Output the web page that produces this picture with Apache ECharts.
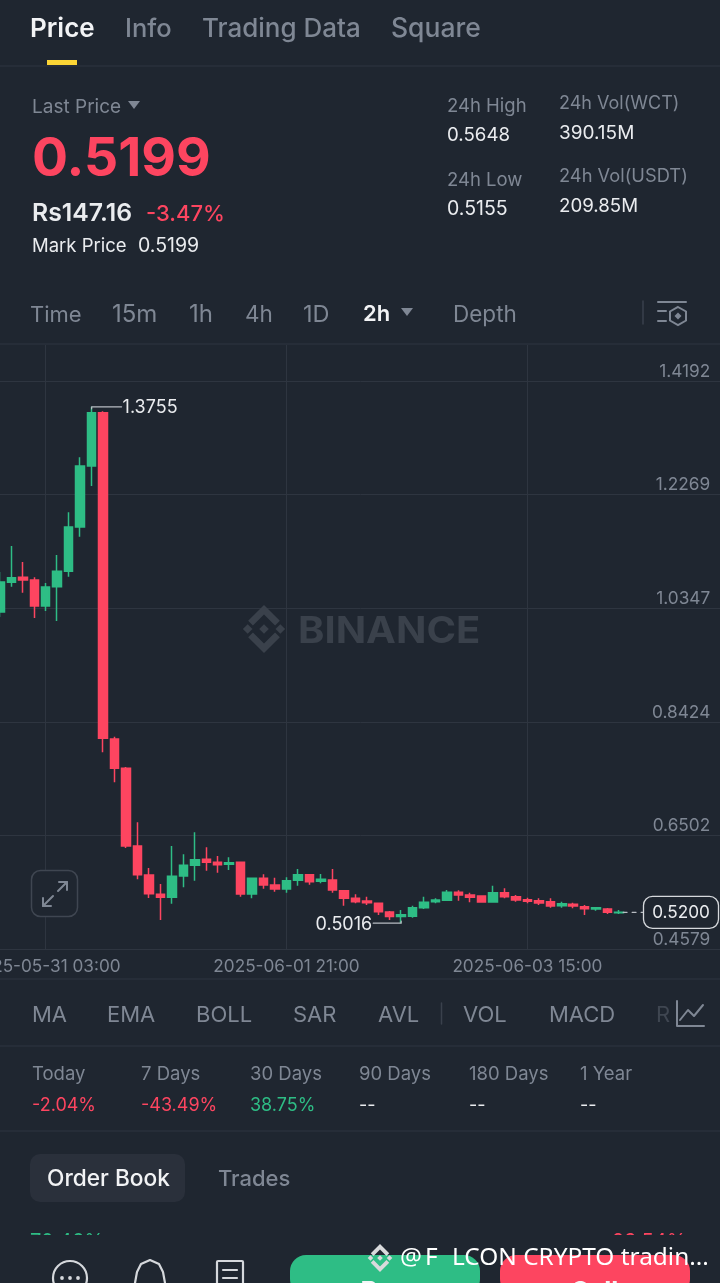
<!DOCTYPE html>
<html><head><meta charset="utf-8">
<style>html,body{margin:0;padding:0;background:#1f2630}#c{width:720px;height:1283px}</style>
<script src="https://cdn.jsdelivr.net/npm/echarts@6/dist/echarts.min.js"></script>
</head><body><div id="c"></div>
<script>
const categories = [
'2025-05-30 19:00','2025-05-30 21:00','2025-05-30 23:00',
'2025-05-31 01:00','2025-05-31 03:00','2025-05-31 05:00','2025-05-31 07:00','2025-05-31 09:00','2025-05-31 11:00','2025-05-31 13:00','2025-05-31 15:00','2025-05-31 17:00','2025-05-31 19:00','2025-05-31 21:00','2025-05-31 23:00',
'2025-06-01 01:00','2025-06-01 03:00','2025-06-01 05:00','2025-06-01 07:00','2025-06-01 09:00','2025-06-01 11:00','2025-06-01 13:00','2025-06-01 15:00','2025-06-01 17:00','2025-06-01 19:00','2025-06-01 21:00','2025-06-01 23:00',
'2025-06-02 01:00','2025-06-02 03:00','2025-06-02 05:00','2025-06-02 07:00','2025-06-02 09:00','2025-06-02 11:00','2025-06-02 13:00','2025-06-02 15:00','2025-06-02 17:00','2025-06-02 19:00','2025-06-02 21:00','2025-06-02 23:00',
'2025-06-03 01:00','2025-06-03 03:00','2025-06-03 05:00','2025-06-03 07:00','2025-06-03 09:00','2025-06-03 11:00','2025-06-03 13:00','2025-06-03 15:00','2025-06-03 17:00','2025-06-03 19:00','2025-06-03 21:00','2025-06-03 23:00',
'2025-06-04 01:00','2025-06-04 03:00','2025-06-04 05:00','2025-06-04 07:00','2025-06-04 09:00','2025-06-04 11:00','2025-06-04 13:00','2025-06-04 15:00','2025-06-04 17:00','2025-06-04 19:00','2025-06-04 21:00','2025-06-04 23:00',
'2025-06-05 01:00'];
const xTickLabels = ['2025-05-31 03:00','2025-06-01 21:00','2025-06-03 15:00'];
const yTicks = [0.4579,0.6502,0.8424,1.0347,1.2269,1.4192];
const opens  = [1.0283,1.0785,1.0870,1.0824,1.0384,1.0711,1.0972,1.1721,1.2754,1.3656,.8134,.7638,.6323,.5832,.5505,.5455,.5815,.5996,.6098,.6047,.6013,.6047,.5510,.5776,.5663,.5595,.5742,.5837,.5726,.5748,.5566,.5438,.5392,.5353,.5206,.5127,.5133,.5279,.5380,.5404,.5539,.5494,.5477,.5375,.5533,.5465,.5414,.5397,.5380,.5312,.5336,.5296,.5257,.5257,.5194];
const closes = [1.0790,1.0863,1.0824,1.0384,1.0706,1.0972,1.1721,1.2754,1.3656,.8145,.7638,.6323,.5837,.5516,.5455,.5810,.5996,.6091,.6047,.6006,.6040,.5510,.5776,.5663,.5595,.5736,.5837,.5719,.5759,.5578,.5438,.5380,.5363,.5211,.5127,.5160,.5279,.5370,.5409,.5539,.5494,.5455,.5375,.5533,.5465,.5409,.5387,.5358,.5307,.5346,.5307,.5262,.5279,.5201,.5200];
const lows   = [1.0198,1.0711,1.0609,1.0181,1.0300,1.0131,1.0880,1.1557,1.2415,.7908,.7401,.6289,.5759,.5443,.5070,.5346,.5624,.5736,.5905,.5871,.5917,.5465,.5438,.5600,.5549,.5533,.5651,.5668,.5692,.5533,.5312,.5353,.5324,.5155,.5070,.5016,.5109,.5257,.5353,.5401,.5397,.5370,.5370,.5370,.5438,.5380,.5353,.5324,.5279,.5279,.5269,.5155,.5228,.5172,.5172];
const highs  = [1.0960,1.1400,1.1129,1.0870,1.0774,1.1247,1.1970,1.2901,1.3755,1.3679,.8173,.7660,.6724,.5950,.5680,.6323,.6182,.6555,.6301,.6153,.6132,.6052,.5781,.5844,.5786,.5793,.5934,.5840,.5849,.5934,.5570,.5505,.5465,.5358,.5223,.5240,.5312,.5465,.5438,.5578,.5573,.5533,.5485,.5651,.5607,.5494,.5448,.5438,.5438,.5380,.5363,.5324,.5291,.5274,.5240];
const highLabel = {index: 8, value: 1.3755};
const lowLabel  = {index: 35, value: 0.5016};
const lastPrice = {index: 54, value: 0.5200};

const FONT = 'Inter, "Noto Sans", sans-serif';
const BG='#1f2630', LINE='#2e3540', GREY='#7f8794', WHITE='#eaecef', RED='#fd4560', GREEN='#2ebd85';
const chart = echarts.init(document.getElementById('c'));
const candleData = opens.map((o,i)=>[o,closes[i],lows[i],highs[i]]);

chart.setOption({
  animation:false, backgroundColor:BG,
  grid:{left:-0.15, right:-2.3, top:345, bottom:334, containLabel:false, outerBoundsMode:'none'},
  xAxis:{type:'category', data:categories, boundaryGap:false,
    axisLine:{show:true,lineStyle:{color:LINE,width:1}}, axisTick:{show:false},
    axisLabel:{color:GREY,fontSize:17.2,fontFamily:FONT,margin:9,hideOverlap:false,
      interval:(i,v)=>xTickLabels.includes(v), formatter:v=>v, showMinLabel:true, showMaxLabel:true},
    splitLine:{show:true,lineStyle:{color:LINE,width:1},interval:(i,v)=>xTickLabels.includes(v)}},
  yAxis:{type:'value', position:'right', min:0.4579, max:1.4801, scale:true,
    axisLine:{show:false}, axisTick:{show:false,customValues:yTicks},
    axisLabel:{inside:true,customValues:yTicks,color:GREY,fontSize:17.3,fontFamily:FONT,margin:12,
      align:'right',verticalAlign:'bottom',lineHeight:19,formatter:v=>v.toFixed(4),showMinLabel:true,showMaxLabel:true},
    splitLine:{show:true,lineStyle:{color:LINE,width:1}}},
  series:[{type:'candlestick',data:candleData,barWidth:9,clip:true,
    itemStyle:{color:GREEN,color0:RED,borderColor:GREEN,borderColor0:RED,borderWidth:1.5}}]
});

// ---- everything around the plot -----
const els=[];
function t(x,y,text,size,fill,weight,align,z){els.push({type:'text',x,y:y+1,z:z||10,silent:true,style:{text,fill,fontSize:size,fontWeight:weight||400,fontFamily:FONT,textAlign:align||'left',textVerticalAlign:'middle'}});}
function hl(y,x1,x2,c,w){els.push({type:'line',z:9,silent:true,shape:{x1:x1||0,y1:y,x2:x2||720,y2:y},style:{stroke:c||LINE,lineWidth:w||1}});}
function seg(x1,y1,x2,y2,c,w,dash,z){els.push({type:'line',z:z||10,silent:true,shape:{x1,y1,x2,y2},style:{stroke:c,lineWidth:w||2,lineDash:dash||null,lineCap:'round'}});}
function rect(x,y,w,h,r,fill,stroke,z,lw){els.push({type:'rect',z:z||8,silent:true,shape:{x,y,width:w,height:h,r},style:{fill:fill||'transparent',stroke:stroke||null,lineWidth:lw||1}});}
function poly(pts,fill,z){els.push({type:'polygon',z:z||10,silent:true,shape:{points:pts},style:{fill}});}
function pline(pts,c,w,z){els.push({type:'polyline',z:z||10,silent:true,shape:{points:pts},style:{stroke:c,lineWidth:w||2,fill:'transparent',lineJoin:'round',lineCap:'round'}});}
function tri(cx,cy,c){poly([[cx-6,cy-4],[cx+6,cy-4],[cx,cy+4]],c);}
function logo(cx,cy,s,c,z){ // s = half size
  const d=(x,y,r)=>poly([[x,y-r],[x+r,y],[x,y+r],[x-r,y]],c,z);
  d(cx,cy,s*.2); d(cx-s*.68,cy,s*.2); d(cx+s*.68,cy,s*.2);
  const a=s*.32,b=s*.66;
  poly([[cx,cy-s],[cx+b,cy-s+b],[cx+b-a*.62,cy-s+b+a*.62],[cx,cy-s+a*1.25],[cx-b+a*.62,cy-s+b+a*.62],[cx-b,cy-s+b]],c,z);
  poly([[cx,cy+s],[cx+b,cy+s-b],[cx+b-a*.62,cy+s-b-a*.62],[cx,cy+s-a*1.25],[cx-b+a*.62,cy+s-b-a*.62],[cx-b,cy+s-b]],c,z);
}

// tabs
t(30,28,'Price',26,'#f2f3f5',600); t(125,28,'Info',25.5,GREY,500); t(202,28,'Trading Data',26,GREY,500); t(391,28,'Square',26.5,GREY,500);
rect(47,60,30,5,0,'#fcd535',null,10); hl(66);
// header
t(32,106,'Last Price',19,GREY); tri(134,105,GREY);
t(32,159,'0.5199',53.5,RED,700);
t(32,213,'Rs147.16',24.8,WHITE,600); t(146,213,'-3.47%',22,RED,500);
t(32,245,'Mark Price',18.5,WHITE); t(138,245,'0.5199',19.5,WHITE);
t(447,105,'24h High',18.5,GREY); t(447,134,'0.5648',18.7,WHITE);
t(447,179,'24h Low',18.5,GREY); t(447,208,'0.5155',19.5,WHITE);
t(559,103,'24h Vol(WCT)',18,GREY); t(559,132,'390.15M',19,WHITE);
t(559,176,'24h Vol(USDT)',18.3,GREY); t(559,205,'209.85M',18.7,WHITE);
// timeframes
[['Time',30,22],['15m',112,24],['1h',189,24],['4h',245,22.5],['1D',303,23.5]].forEach(a=>t(a[1],314,a[0],a[2],GREY));
t(363,313,'2h',22,'#f2f3f5',600); tri(407,312,GREY); t(453,314,'Depth',22.5,GREY);
seg(643,301,643,324,'#3a414c',1.5);
seg(658,302,686,302,GREY,2); seg(658,311,666,311,GREY,2); seg(658,321,666,321,GREY,2);
els.push({type:'polygon',z:10,silent:true,shape:{points:[[678,307],[686,311.5],[686,320.5],[678,325],[670,320.5],[670,311.5]]},style:{fill:'transparent',stroke:GREY,lineWidth:2}});
poly([[678,312.5],[681.5,316],[678,319.5],[674.5,316]],GREY);
hl(344);
// watermark
logo(264,629,24,'#3a414b',1);
els.push({type:'text',x:298,y:632,z:1,scaleX:1.08,silent:true,style:{text:'BINANCE',fill:'#3a414b',fontSize:37,fontWeight:700,fontFamily:FONT,textAlign:'left',textVerticalAlign:'middle'}});
// expand button
rect(31.5,870.5,46,46,9,BG,'#3f4651',10,1.5);
pline([[43,906],[53,896]],GREY,2,11); pline([[43,898],[43,906],[51,906]],GREY,2,11);
pline([[58,891],[67,882]],GREY,2,11); pline([[59,882],[67,882],[67,890]],GREY,2,11);
// indicators
hl(979);
[['MA',32],['EMA',107],['BOLL',196],['SAR',293],['AVL',378],['VOL',463],['MACD',549]].forEach(a=>t(a[1],1014,a[0],22,GREY));
seg(441.5,1003,441.5,1024,'#3a414c',1.5);
t(656,1014,'R',22,'#3f4651');
pline([[677,1001],[677,1026],[704,1026]],GREY,2); pline([[680,1020],[688,1010],[694,1016],[703,1005]],GREY,2);
hl(1046);
// period changes
[['Today',32,'-2.04%',RED],['7 Days',141,'-43.49%',RED],['30 Days',250,'38.75%',GREEN],['90 Days',359,'--',WHITE],['180 Days',469,'--',WHITE],['1 Year',580,'--',WHITE]].forEach(a=>{
  t(a[1],1073,a[0],18.5,GREY); t(a[1],1105,a[2],18,a[3]);});
hl(1131);
// order book tabs
rect(30,1154,155,48,10,'#2a303b');
t(47,1178,'Order Book',22.7,'#f2f3f5',500); t(218,1178,'Trades',22,GREY,500);
t(30,1241,'70.46%',20,GREEN,400,'left',5); t(612,1241,'29.54%',20,RED,400,'left',5);
rect(0,1235,720,48,0,BG,null,6);
// bottom bar
const IC='#d5d8dc';
els.push({type:'circle',z:10,silent:true,shape:{cx:70,cy:1278,r:17},style:{fill:'transparent',stroke:IC,lineWidth:2.2}});
[62,70,78].forEach(x=>els.push({type:'circle',z:10,silent:true,shape:{cx:x,cy:1278,r:1.9},style:{fill:IC}}));
pline([[135,1283],[137,1272],[141,1264],[150,1260],[159,1264],[163,1272],[165,1283]],IC,2.2);
rect(217,1261,26,26,1,'transparent',IC,10,2.2);
seg(223,1270,237,1270,IC,2.2); seg(223,1278,237,1278,IC,2.2);
rect(290,1255,190,40,16,GREEN,null,8); rect(500,1255,190,40,16,RED,null,8);
t(385,1291,'Buy',26,'#f5f6f7',700,'center'); t(595,1291,'Sell',26,'#f5f6f7',700,'center');
// overlay credit
logo(380,1258,14,'#d9dadc',20);
const NAR='"Noto Sans", sans-serif';
[['@',400],['F',425],['LCON CRYPTO tradin...',452]].forEach(a=>els.push({type:'text',x:a[1],y:1258.5,z:20,silent:true,style:{text:a[0],fill:'#ffffff',fontSize:24.4,fontFamily:NAR,textVerticalAlign:'middle',textAlign:'left'}}));

// ---- annotations anchored through the axes -----
const px=(i,v)=>chart.convertToPixel({gridIndex:0},[i,v]);
const h=px(highLabel.index,highLabel.value);
pline([[h[0],h[1]+2],[h[0],h[1]],[h[0]+30,h[1]]],'#b8bcc2',1.2,12);
t(h[0]+31,h[1],highLabel.value.toFixed(4),18,WHITE,400,'left',12);
const l=px(lowLabel.index,lowLabel.value);
pline([[l[0],l[1]-2],[l[0],l[1]],[l[0]-28,l[1]]],'#b8bcc2',1.2,12);
t(l[0]-29,l[1],lowLabel.value.toFixed(4),18,WHITE,400,'right',12);
const p=px(lastPrice.index,lastPrice.value);
seg(p[0]+4,p[1],643,p[1],'#b8bcc2',1.2,[4,5],12);
rect(643.5,p[1]-16,75,32,9,BG,'#d5d8dc',12,1.3);
t(681,p[1],lastPrice.value.toFixed(4),17.2,WHITE,400,'center',13);

chart.setOption({graphic:{elements:els}});
</script></body></html>
